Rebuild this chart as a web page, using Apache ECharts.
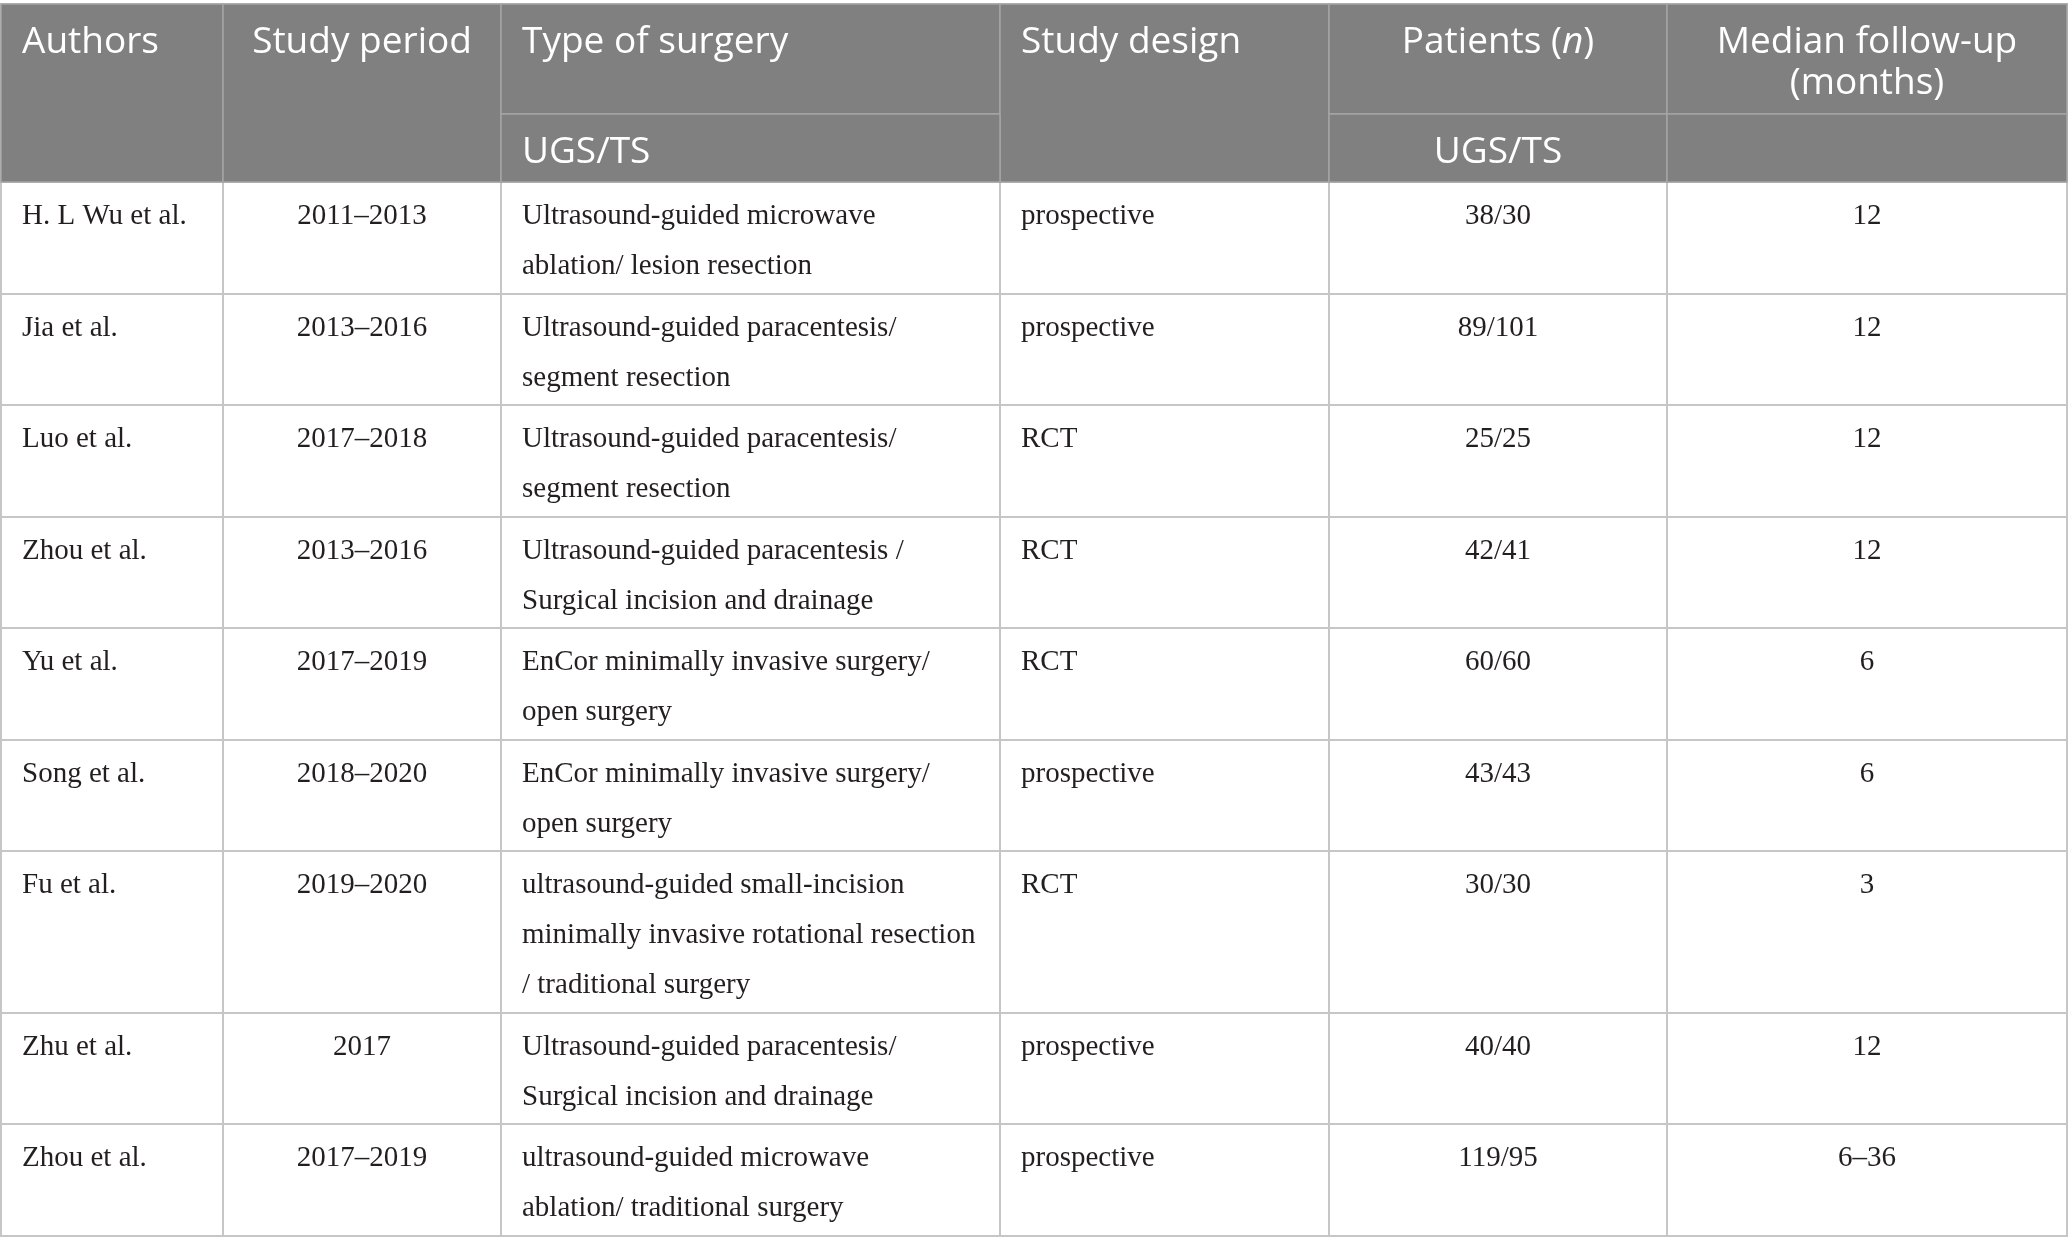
<!DOCTYPE html>
<html>
<head>
<meta charset="utf-8">
<title>Studies table</title>
<script src="https://cdn.jsdelivr.net/npm/echarts@6.0.0/dist/echarts.min.js"></script>
<style>
  html, body { margin: 0; padding: 0; background: #fff; }
  #main { width: 2068px; height: 1254px; }
</style>
</head>
<body>
<div id="main"></div>
<script>
// header texts
var headers = ['Authors', 'Study period', 'Type of surgery', 'Study design', 'Patients ({i|n})', 'Median follow-up\n(months)'];
var subHeaders = [null, null, 'UGS/TS', null, 'UGS/TS', ''];

// table rows
var authors = ['H. L Wu et al.', 'Jia et al.', 'Luo et al.', 'Zhou et al.', 'Yu et al.', 'Song et al.', 'Fu et al.', 'Zhu et al.', 'Zhou et al.'];
var periods = ['2011–2013', '2013–2016', '2017–2018', '2013–2016', '2017–2019', '2018–2020', '2019–2020', '2017', '2017–2019'];
var surgeries = [
    'Ultrasound-guided microwave\nablation/ lesion resection',
    'Ultrasound-guided paracentesis/\nsegment resection',
    'Ultrasound-guided paracentesis/\nsegment resection',
    'Ultrasound-guided paracentesis /\nSurgical incision and drainage',
    'EnCor minimally invasive surgery/\nopen surgery',
    'EnCor minimally invasive surgery/\nopen surgery',
    'ultrasound-guided small-incision\nminimally invasive rotational resection\n/ traditional surgery',
    'Ultrasound-guided paracentesis/\nSurgical incision and drainage',
    'ultrasound-guided microwave\nablation/ traditional surgery'
];
var designs = ['prospective', 'prospective', 'RCT', 'RCT', 'RCT', 'prospective', 'RCT', 'prospective', 'prospective'];
var patients = ['38/30', '89/101', '25/25', '42/41', '60/60', '43/43', '30/30', '40/40', '119/95'];
var followUps = ['12', '12', '12', '12', '6', '6', '3', '12', '6–36'];

var chart = echarts.init(document.getElementById('main'));

var colWidths = [222, 278, 499, 329, 338, 400];
var colAlign = ['left', 'center', 'left', 'left', 'center', 'center'];
var headAlign = ['left', 'center', 'left', 'left', 'center', 'center'];
var columns = [authors, periods, surgeries, designs, patients, followUps];

var headFill = '#7f807f';
var headLine = '#a4a5a4';

// x / y dimensions (hidden, only used for layout)
var xData = colWidths.map(function (w, i) {
    return { value: 'c' + i, size: w };
});
var yData = [{ value: 'h0', size: 110 }, { value: 'h1', size: 68 }];
authors.forEach(function (a, r) {
    var lines = 1;
    columns.forEach(function (col) {
        lines = Math.max(lines, col[r].split('\n').length);
    });
    yData.push({ value: 'r' + r, size: 11.5 + 50 * lines });
});

function headLabel(i) {
    return {
        fontFamily: '"Open Sans", sans-serif',
        fontSize: 37,
        lineHeight: 41,
        color: '#ffffff',
        align: headAlign[i],
        verticalAlign: 'top',
        position: headAlign[i] === 'left' ? 'insideTopLeft' : 'insideTop',
        padding: [18, headAlign[i] === 'left' ? 20 : 0, 0, headAlign[i] === 'left' ? 21 : 0],
        rich: {
            i: { fontFamily: '"Open Sans", sans-serif', fontSize: 37, fontStyle: 'italic', color: '#ffffff' }
        }
    };
}

var cells = [];
headers.forEach(function (h, i) {
    if (subHeaders[i] === null) {
        cells.push({
            coord: ['c' + i, ['h0', 'h1']],
            mergeCells: true,
            value: h,
            itemStyle: { color: headFill, borderColor: headLine, borderWidth: 1.5 },
            label: headLabel(i)
        });
    } else {
        cells.push({
            coord: ['c' + i, 'h0'],
            value: h,
            itemStyle: { color: headFill, borderColor: headLine, borderWidth: 1.5 },
            label: headLabel(i)
        });
        cells.push({
            coord: ['c' + i, 'h1'],
            value: subHeaders[i],
            itemStyle: { color: headFill, borderColor: headLine, borderWidth: 1.5 },
            label: headLabel(i)
        });
    }
});

columns.forEach(function (col, i) {
    col.forEach(function (txt, r) {
        cells.push({
            coord: ['c' + i, 'r' + r],
            value: txt,
            label: {
                align: colAlign[i],
                verticalAlign: 'top',
                position: colAlign[i] === 'left' ? 'insideTopLeft' : 'insideTop',
                padding: [9, colAlign[i] === 'left' ? 8 : 0, 0, colAlign[i] === 'left' ? 21 : 0]
            }
        });
    });
});

var option = {
    backgroundColor: '#ffffff',
    matrix: {
        left: 1,
        top: 4,
        width: 2066,
        height: 1232,
        x: { show: false, data: xData },
        y: { show: false, data: yData },
        backgroundStyle: { color: '#ffffff', borderColor: '#c6c6c6', borderWidth: 2 },
        body: {
            data: cells,
            itemStyle: { color: '#ffffff', borderColor: '#c6c6c6', borderWidth: 2 },
            label: {
                fontFamily: '"Liberation Serif", "DejaVu Serif", serif',
                fontSize: 29,
                lineHeight: 50,
                color: '#231f20',
                overflow: 'none'
            }
        }
    }
};

chart.setOption(option);
window.addEventListener('resize', chart.resize);
</script>
</body>
</html>
